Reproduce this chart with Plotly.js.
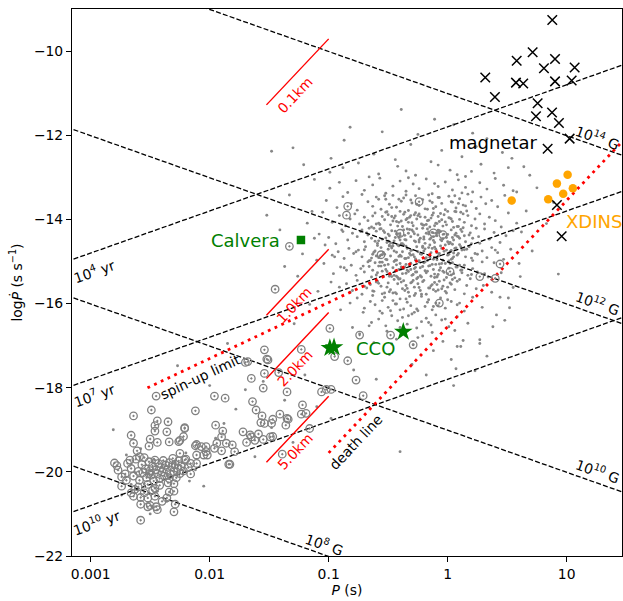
<!DOCTYPE html>
<html><head><meta charset="utf-8">
<script src="https://cdn.plot.ly/plotly-3.0.1.min.js"></script>
<style>html,body{margin:0;padding:0;background:#fff}</style>
</head><body><div id="chart" style="width:623px;height:601px"></div>
<script>
// ---- Data (log10 P [s], log10 Pdot [s/s]) ----
const normalPsr = [
[-0.39,-11.39],[-0.82,-11.81],[-0.11,-11.62],[0.21,-11.95],[-0.55,-11.92],[0.05,-11.75],[-0.25,-11.98],
[-0.87,-12.12],[-1.48,-12.38],[-1.30,-12.30],[-0.62,-12.45],[-0.31,-12.22],[0.12,-12.51],[0.33,-12.08],[-0.05,-12.36],[-0.98,-12.55],[0.46,-12.41],[-0.44,-12.58],[0.24,-12.27],
[-1.21,-12.70],[-0.99,-12.88],[-0.75,-12.66],[-0.58,-12.92],[-0.42,-12.74],[-0.27,-12.95],[-0.14,-12.63],[0.02,-12.83],[0.15,-12.98],[0.28,-12.69],[0.39,-12.90],[0.51,-12.77],[-0.66,-12.99],[-0.35,-12.85],[-0.08,-12.71],[0.20,-12.86],[-0.88,-12.77],[0.08,-12.94],
[-1.12,-13.05],[-0.99,-13.26],[-0.91,-13.12],[-0.84,-13.36],[-0.77,-13.08],[-0.70,-13.31],[-0.63,-13.18],[-0.57,-13.02],[-0.52,-13.38],[-0.46,-13.21],[-0.40,-13.09],[-0.35,-13.33],[-0.29,-13.16],[-0.24,-13.27],[-0.18,-13.04],[-0.13,-13.39],[-0.08,-13.22],[-0.02,-13.11],[0.04,-13.30],[0.09,-13.06],[0.15,-13.24],[0.21,-13.35],[0.27,-13.13],[0.33,-13.28],[0.40,-13.03],[0.47,-13.19],[0.55,-13.32],[-0.33,-13.01],[-0.11,-13.15],[0.12,-13.37],
[-1.02,-13.55],[-0.93,-13.72],[-0.88,-13.46],[-0.81,-13.63],[-0.76,-13.78],[-0.72,-13.41],[-0.67,-13.58],[-0.63,-13.69],[-0.60,-13.47],[-0.56,-13.76],[-0.52,-13.52],[-0.49,-13.64],[-0.46,-13.43],[-0.43,-13.71],[-0.39,-13.57],[-0.37,-13.49],[-0.33,-13.79],[-0.30,-13.61],[-0.27,-13.44],[-0.24,-13.67],[-0.21,-13.53],[-0.19,-13.75],[-0.16,-13.42],[-0.13,-13.60],[-0.10,-13.70],[-0.07,-13.48],[-0.05,-13.62],[-0.02,-13.77],[0.01,-13.45],[0.04,-13.59],[0.07,-13.73],[0.10,-13.51],[0.13,-13.66],[0.17,-13.40],[0.20,-13.58],[0.24,-13.74],[0.28,-13.47],[0.32,-13.63],[0.37,-13.55],[0.42,-13.70],[0.48,-13.43],[0.54,-13.61],[-0.41,-13.52],[-0.15,-13.56],[0.06,-13.44],
[-1.05,-13.83],[-0.97,-14.07],[-0.91,-13.91],[-0.86,-14.15],[-0.82,-13.99],[-0.78,-13.87],[-0.74,-14.11],[-0.70,-13.95],[-0.67,-14.03],[-0.64,-14.18],[-0.61,-13.85],[-0.58,-14.09],[-0.55,-13.93],[-0.53,-14.01],[-0.50,-13.89],[-0.48,-14.13],[-0.45,-13.97],[-0.43,-14.05],[-0.40,-13.81],[-0.38,-14.17],[-0.36,-13.83],[-0.33,-14.07],[-0.31,-13.91],[-0.29,-14.15],[-0.26,-13.99],[-0.24,-13.87],[-0.22,-14.11],[-0.19,-13.95],[-0.17,-14.03],[-0.15,-14.18],[-0.12,-13.85],[-0.10,-14.09],[-0.08,-13.93],[-0.05,-14.01],[-0.03,-13.89],[-0.01,-14.13],[0.02,-13.97],[0.04,-14.05],[0.06,-13.81],[0.09,-14.17],[0.11,-13.83],[0.14,-14.07],[0.17,-13.91],[0.20,-14.15],[0.23,-13.99],[0.27,-13.87],[0.31,-14.11],[0.35,-13.95],[0.40,-14.03],[0.45,-14.18],[0.51,-13.85],[0.58,-14.09],[-0.47,-13.93],[-0.35,-14.01],[-0.28,-13.89],[-0.21,-14.13],[-0.14,-13.97],[-0.07,-14.05],[0.00,-13.81],[0.08,-14.17],[-0.52,-13.83],[-0.41,-14.07],[-0.25,-13.91],[-0.11,-14.15],[0.03,-13.99],[0.13,-13.87],[-0.60,-14.11],[-0.32,-13.95],
[-1.08,-14.35],[-1.00,-14.43],[-0.94,-14.58],[-0.89,-14.25],[-0.84,-14.49],[-0.80,-14.33],[-0.76,-14.41],[-0.73,-14.29],[-0.70,-14.53],[-0.67,-14.37],[-0.64,-14.45],[-0.62,-14.21],[-0.59,-14.57],[-0.57,-14.23],[-0.55,-14.47],[-0.53,-14.31],[-0.51,-14.55],[-0.49,-14.39],[-0.47,-14.27],[-0.45,-14.51],[-0.43,-14.35],[-0.41,-14.43],[-0.39,-14.58],[-0.37,-14.25],[-0.35,-14.49],[-0.33,-14.33],[-0.31,-14.41],[-0.29,-14.29],[-0.27,-14.53],[-0.25,-14.37],[-0.23,-14.45],[-0.21,-14.21],[-0.19,-14.57],[-0.17,-14.23],[-0.15,-14.47],[-0.13,-14.31],[-0.11,-14.55],[-0.09,-14.39],[-0.07,-14.27],[-0.05,-14.51],[-0.03,-14.35],[-0.01,-14.43],[0.01,-14.58],[0.03,-14.25],[0.05,-14.49],[0.07,-14.33],[0.09,-14.41],[0.12,-14.29],[0.15,-14.53],[0.18,-14.37],[0.21,-14.45],[0.24,-14.21],[0.27,-14.57],[0.31,-14.23],[0.35,-14.47],[0.39,-14.31],[0.44,-14.55],[0.49,-14.39],[0.55,-14.27],[-0.58,-14.51],[-0.50,-14.35],[-0.44,-14.43],[-0.38,-14.58],[-0.30,-14.25],[-0.24,-14.49],[-0.18,-14.33],[-0.12,-14.41],[-0.06,-14.29],[0.00,-14.53],[0.06,-14.37],[0.10,-14.45],[-0.66,-14.21],[-0.46,-14.57],[-0.34,-14.23],[-0.20,-14.47],[-0.08,-14.31],[0.02,-14.55],[0.14,-14.39],[-0.54,-14.27],[-0.28,-14.51],[-0.16,-14.35],[0.04,-14.43],[0.20,-14.58],[-0.72,-14.25],[-0.40,-14.49],[-0.10,-14.33],[0.26,-14.41],[-0.88,-14.29],
[-1.10,-14.97],[-1.03,-14.61],[-0.97,-14.85],[-0.92,-14.77],[-0.87,-14.93],[-0.83,-14.69],[-0.79,-14.81],[-0.75,-14.73],[-0.72,-14.89],[-0.69,-14.65],[-0.66,-14.98],[-0.63,-14.83],[-0.61,-14.75],[-0.58,-14.91],[-0.56,-14.67],[-0.54,-14.79],[-0.52,-14.95],[-0.50,-14.71],[-0.48,-14.87],[-0.46,-14.63],[-0.44,-14.97],[-0.42,-14.61],[-0.40,-14.85],[-0.38,-14.77],[-0.36,-14.93],[-0.34,-14.69],[-0.32,-14.81],[-0.30,-14.73],[-0.28,-14.89],[-0.26,-14.65],[-0.24,-14.98],[-0.22,-14.83],[-0.20,-14.75],[-0.18,-14.91],[-0.16,-14.67],[-0.14,-14.79],[-0.12,-14.95],[-0.10,-14.71],[-0.08,-14.87],[-0.06,-14.63],[-0.04,-14.97],[-0.02,-14.61],[0.00,-14.85],[0.02,-14.77],[0.04,-14.93],[0.06,-14.69],[0.09,-14.81],[0.12,-14.73],[0.15,-14.89],[0.18,-14.65],[0.21,-14.98],[0.25,-14.83],[0.29,-14.75],[0.33,-14.91],[0.37,-14.67],[0.42,-14.79],[0.47,-14.95],[0.53,-14.71],[-0.57,-14.87],[-0.49,-14.63],[-0.43,-14.97],[-0.37,-14.61],[-0.31,-14.85],[-0.25,-14.77],[-0.19,-14.93],[-0.13,-14.69],[-0.07,-14.81],[-0.01,-14.73],[0.05,-14.89],[0.11,-14.65],[-0.65,-14.98],[-0.53,-14.83],[-0.45,-14.75],[-0.33,-14.91],[-0.21,-14.67],[-0.09,-14.79],[0.03,-14.95],[0.16,-14.71],[-0.60,-14.87],[-0.41,-14.63],[-0.27,-14.97],[-0.15,-14.61],[0.08,-14.85],[-0.77,-14.77],[-0.35,-14.93],[-0.05,-14.69],[0.23,-14.81],[0.40,-14.73],[-0.95,-14.89],[-0.47,-14.65],[-0.17,-14.98],[0.01,-14.83],
[-1.04,-15.05],[-0.96,-15.29],[-0.90,-15.13],[-0.85,-15.21],[-0.81,-15.09],[-0.77,-15.33],[-0.73,-15.17],[-0.70,-15.25],[-0.67,-15.01],[-0.64,-15.37],[-0.61,-15.03],[-0.59,-15.27],[-0.56,-15.11],[-0.54,-15.35],[-0.52,-15.19],[-0.50,-15.07],[-0.48,-15.31],[-0.46,-15.15],[-0.44,-15.23],[-0.42,-15.38],[-0.40,-15.05],[-0.38,-15.29],[-0.36,-15.13],[-0.34,-15.21],[-0.32,-15.09],[-0.30,-15.33],[-0.28,-15.17],[-0.26,-15.25],[-0.24,-15.01],[-0.22,-15.37],[-0.20,-15.03],[-0.18,-15.27],[-0.16,-15.11],[-0.14,-15.35],[-0.12,-15.19],[-0.10,-15.07],[-0.08,-15.31],[-0.06,-15.15],[-0.04,-15.23],[-0.01,-15.38],[0.02,-15.05],[0.05,-15.29],[0.08,-15.13],[0.11,-15.21],[0.14,-15.09],[0.17,-15.33],[0.21,-15.17],[0.25,-15.25],[0.29,-15.01],[0.34,-15.37],[0.39,-15.03],[0.45,-15.27],[-0.58,-15.11],[-0.49,-15.35],[-0.41,-15.19],[-0.35,-15.07],[-0.29,-15.31],[-0.23,-15.15],[-0.17,-15.23],[-0.11,-15.38],[-0.05,-15.05],[0.00,-15.29],[0.07,-15.13],[-0.63,-15.21],[-0.53,-15.09],[-0.45,-15.33],[-0.37,-15.17],[-0.27,-15.25],[-0.19,-15.01],[-0.09,-15.37],[0.04,-15.03],[0.12,-15.27],[-0.71,-15.11],[-0.43,-15.35],[-0.31,-15.19],[-0.13,-15.07],[0.20,-15.31],[-0.87,-15.15],[-0.55,-15.23],[-0.25,-15.38],[-0.02,-15.05],[0.31,-15.29],[-0.39,-15.13],[-0.07,-15.21],[0.10,-15.09],
[-0.98,-15.49],[-0.91,-15.61],[-0.85,-15.53],[-0.80,-15.69],[-0.76,-15.45],[-0.72,-15.78],[-0.68,-15.63],[-0.65,-15.55],[-0.62,-15.71],[-0.59,-15.47],[-0.56,-15.59],[-0.53,-15.75],[-0.50,-15.51],[-0.48,-15.67],[-0.45,-15.43],[-0.43,-15.77],[-0.40,-15.41],[-0.38,-15.65],[-0.35,-15.57],[-0.33,-15.73],[-0.30,-15.49],[-0.28,-15.61],[-0.25,-15.53],[-0.23,-15.69],[-0.20,-15.45],[-0.18,-15.78],[-0.15,-15.63],[-0.13,-15.55],[-0.10,-15.71],[-0.07,-15.47],[-0.04,-15.59],[-0.01,-15.75],[0.02,-15.51],[0.06,-15.67],[0.10,-15.43],[0.14,-15.77],[0.19,-15.41],[0.24,-15.65],[0.30,-15.57],[0.37,-15.73],[-0.60,-15.49],[-0.51,-15.61],[-0.42,-15.53],[-0.36,-15.69],[-0.29,-15.45],[-0.22,-15.78],[-0.16,-15.63],[-0.09,-15.55],[-0.02,-15.71],[0.08,-15.47],[-0.70,-15.59],[-0.46,-15.75],[-0.31,-15.51],[-0.12,-15.67],[0.04,-15.43],[-0.55,-15.77],[-0.26,-15.41],[-0.05,-15.65],[0.16,-15.57],[-0.82,-15.73],[-0.39,-15.49],[0.00,-15.61],
[-0.90,-16.15],[-0.82,-15.99],[-0.76,-15.87],[-0.70,-16.11],[-0.65,-15.95],[-0.61,-16.03],[-0.57,-16.18],[-0.53,-15.85],[-0.50,-16.09],[-0.46,-15.93],[-0.43,-16.01],[-0.40,-15.89],[-0.37,-16.13],[-0.34,-15.97],[-0.31,-16.05],[-0.28,-15.81],[-0.25,-16.17],[-0.22,-15.83],[-0.19,-16.07],[-0.16,-15.91],[-0.13,-16.15],[-0.10,-15.99],[-0.06,-15.87],[-0.02,-16.11],[0.03,-15.95],[0.08,-16.03],[0.14,-16.18],[0.21,-15.85],[0.29,-16.09],[-0.55,-15.93],[-0.44,-16.01],[-0.35,-15.89],[-0.26,-16.13],[-0.17,-15.97],[-0.08,-16.05],[-0.63,-15.81],[-0.48,-16.17],[-0.32,-15.83],[-0.12,-16.07],[0.00,-15.91],[-0.40,-16.15],[0.10,-15.99],
[-0.80,-16.57],[-0.71,-16.21],[-0.64,-16.45],[-0.58,-16.37],[-0.52,-16.53],[-0.47,-16.29],[-0.42,-16.41],[-0.38,-16.33],[-0.34,-16.49],[-0.30,-16.25],[-0.26,-16.58],[-0.22,-16.43],[-0.18,-16.35],[-0.14,-16.51],[-0.10,-16.27],[-0.05,-16.39],[0.01,-16.55],[0.08,-16.31],[0.17,-16.47],[-0.55,-16.23],[-0.40,-16.57],[-0.28,-16.21],[-0.16,-16.45],[-0.02,-16.37],[-0.66,-16.53],[-0.33,-16.29],
[-0.74,-16.72],[-0.62,-16.93],[-0.51,-16.66],[-0.43,-16.85],[-0.36,-16.61],[-0.29,-16.98],[-0.21,-16.77],[-0.13,-16.69],[-0.04,-16.90],[0.06,-16.64],[-0.47,-16.96],[-0.25,-16.81],[0.13,-16.88],
[-0.79,-17.58],[-0.49,-17.21],[-0.30,-17.45],[-0.12,-17.12],[0.03,-17.33],[-0.98,-18.73],[-0.40,-19.52],[-0.60,-17.80],[0.11,-17.02],[-0.18,-17.70],[0.07,-17.55],
[-1.18,-14.09],[-1.41,-14.25],[-1.14,-13.81],[-1.26,-15.35],[-1.33,-13.42],[-1.16,-16.02],[-1.09,-15.71],[-1.22,-14.82],[-1.52,-13.90],[-1.29,-16.48],[-1.12,-14.45],[-1.37,-15.12],
[0.55,-15.62],[0.62,-14.30],[0.58,-13.35],[0.66,-13.80],[0.71,-14.75],[0.52,-16.10],[0.64,-12.75],[0.48,-16.40],[0.60,-15.05],[0.75,-13.25],[0.83,-14.10],[0.44,-15.85],[0.38,-16.55],[0.27,-16.95],[0.33,-17.25],[0.23,-17.60],[0.05,-17.95],[0.54,-12.55],[0.69,-12.95],[0.89,-13.60],[0.93,-15.30],[0.41,-16.27],[0.51,-15.87],[0.61,-15.36],[0.27,-16.86],[0.08,-17.02],
[-2.81,-19.00],[-2.27,-17.48],[-2.05,-20.34],[-1.78,-18.51],[-1.37,-18.30],[-1.62,-19.64],[-2.58,-19.45],[-2.47,-19.70],[-2.40,-19.88],[-2.33,-20.12],[-2.62,-20.02],[-2.55,-20.28],[-2.44,-20.46],[-2.36,-20.70],[-2.50,-21.00],[-2.20,-19.55],[-2.12,-19.95],[-1.95,-19.20],[-1.88,-18.85],[-1.70,-18.05],[-1.55,-17.85],[-1.48,-18.95],[-1.30,-19.30],[-1.20,-17.70],[-2.70,-19.60],[-2.66,-20.30],[-2.29,-19.78],[-2.17,-20.22],[-2.74,-20.55],[-1.10,-18.45],[-1.85,-16.95],[-2.00,-17.95],
[-0.63,-13.92],[-0.57,-14.12],[-0.51,-13.82],[-0.46,-14.04],[-0.42,-14.16],[-0.37,-13.88],[-0.34,-13.98],[-0.30,-14.08],[-0.27,-13.84],[-0.23,-13.94],[-0.20,-14.14],[-0.16,-14.02],[-0.13,-13.90],[-0.09,-14.10],[-0.06,-13.86],[-0.02,-14.06],[0.01,-13.96],[0.05,-14.19],[0.10,-14.00],[0.16,-13.80],[-0.44,-13.92],[-0.18,-14.12],[0.07,-13.82],[-0.39,-14.04],[-0.04,-14.16],
[-0.68,-14.32],[-0.61,-14.52],[-0.56,-14.22],[-0.52,-14.44],[-0.48,-14.56],[-0.44,-14.28],[-0.40,-14.38],[-0.36,-14.48],[-0.32,-14.24],[-0.28,-14.34],[-0.24,-14.54],[-0.20,-14.42],[-0.16,-14.30],[-0.12,-14.50],[-0.08,-14.26],[-0.04,-14.46],[0.00,-14.36],[0.04,-14.59],[0.08,-14.40],[0.13,-14.20],[0.19,-14.32],[-0.50,-14.52],[-0.26,-14.22],[-0.14,-14.44],[0.02,-14.56],[-0.60,-14.28],[-0.36,-14.38],[-0.06,-14.48],[0.11,-14.24],[-0.42,-14.34],
[-0.70,-14.72],[-0.64,-14.92],[-0.59,-14.62],[-0.55,-14.84],[-0.51,-14.96],[-0.47,-14.68],[-0.43,-14.78],[-0.39,-14.88],[-0.35,-14.64],[-0.31,-14.74],[-0.27,-14.94],[-0.23,-14.82],[-0.19,-14.70],[-0.15,-14.90],[-0.11,-14.66],[-0.07,-14.86],[-0.03,-14.76],[0.01,-14.99],[0.05,-14.80],[0.10,-14.60],[0.14,-14.72],[0.20,-14.92],[-0.49,-14.62],[-0.29,-14.84],[-0.09,-14.96],[0.07,-14.68],[-0.62,-14.78],[-0.41,-14.88],[-0.21,-14.64],[0.03,-14.74],
[-0.66,-15.12],[-0.60,-15.32],[-0.55,-15.02],[-0.51,-15.24],[-0.47,-15.36],[-0.43,-15.08],[-0.39,-15.18],[-0.35,-15.28],[-0.31,-15.04],[-0.27,-15.14],[-0.23,-15.34],[-0.19,-15.22],[-0.15,-15.10],[-0.11,-15.30],[-0.07,-15.06],[-0.03,-15.26],[0.01,-15.16],[0.06,-15.39],[0.12,-15.20],[-0.45,-15.00],[-0.21,-15.12],[0.03,-15.32],[-0.57,-15.02],[-0.33,-15.24],[-0.09,-15.36],
[-0.58,-15.52],[-0.49,-15.72],[-0.41,-15.42],[-0.34,-15.64],[-0.27,-15.76],[-0.21,-15.48],[-0.14,-15.58],[-0.08,-15.68],[-0.03,-15.44],[0.03,-15.54],[-0.44,-15.74],[-0.24,-15.62],[-0.11,-15.50],[-0.63,-15.70],[-0.37,-15.46],
[-0.58,-13.52],[-0.47,-13.72],[-0.35,-13.42],[-0.26,-13.64],[-0.17,-13.76],[-0.08,-13.48],[0.03,-13.58],[0.15,-13.68],[-0.53,-13.44],[-0.31,-13.54],[-0.12,-13.74],[0.09,-13.62]
];

const binaryPsr = [
[-0.84,-13.69],[-0.85,-13.90],[-1.33,-14.64],[-1.45,-15.66],[-0.24,-13.58],[-0.40,-14.33],[-0.12,-14.32],[-0.04,-14.36],[-0.56,-14.84],[0.02,-15.24],[0.27,-15.36],[0.44,-15.06],[0.40,-15.40],[-0.07,-15.99],
[-0.99,-16.59],[-0.74,-16.75],[-0.48,-16.75],[-0.29,-16.98],[-0.95,-17.26],[-0.84,-17.36],[-0.77,-17.82],[-0.71,-18.19],[-1.54,-17.10],[-1.52,-17.32],[-1.54,-17.66],[-1.65,-17.78],[-1.55,-18.01],[-1.35,-18.10],[-1.23,-17.09],[-1.70,-17.40],[-1.06,-18.10],[-1.02,-18.04],[-0.98,-18.04],[-2.45,-18.20],[-1.96,-18.20],[-1.87,-18.25],[-2.49,-18.53],[-2.12,-18.55],[-1.64,-18.33],[-1.22,-18.41],[-1.19,-18.61],[-1.35,-18.73],[-1.16,-18.97],[-1.39,-19.58],[-1.84,-19.82],
[-1.68,-17.38],[-1.51,-17.34],[-1.42,-17.64],[-2.64,-18.67],[-1.61,-18.53],[-1.56,-18.67],[-1.57,-18.83],[-1.47,-18.75],[-1.41,-18.63],[-1.34,-18.75],[-1.48,-18.85],[-1.23,-18.63],[-1.54,-18.85],[-1.36,-18.89],
[-2.44,-18.79],[-2.35,-18.81],[-2.21,-18.97],[-2.46,-18.90],[-2.46,-19.03],[-2.36,-19.05],[-1.95,-18.89],[-1.89,-19.03],[-1.90,-19.17],[-1.72,-19.05],[-1.65,-19.17],[-1.59,-19.10],[-1.55,-19.23],[-1.49,-19.17],[-1.86,-19.32],[-1.81,-19.36],[-1.79,-19.52],[-1.69,-19.30],[-1.62,-19.25],[-2.50,-19.22],[-2.51,-19.39],[-2.44,-19.30],[-2.25,-19.25],[-2.11,-19.35],[-2.03,-19.40],[-1.96,-19.44],[-2.66,-19.13],[-2.64,-19.32],[-2.34,-19.29],[-1.90,-19.50],[-1.83,-19.82],
[-2.80,-19.79],[-2.77,-19.96],[-2.74,-20.12],[-2.67,-19.72],[-2.61,-19.50],[-2.59,-19.64],[-2.51,-20.04],[-2.25,-19.56],[-2.21,-19.72],[-2.11,-19.60],[-2.05,-19.60],[-2.02,-19.60],[-2.11,-19.80],[-2.16,-20.05],[-2.30,-20.28],[-2.34,-20.48],[-2.46,-20.39],[-2.45,-20.83],[-2.52,-20.83],[-2.58,-20.77],[-2.58,-20.61],[-2.64,-20.58],[-2.66,-20.50],[-2.74,-20.34],[-2.58,-21.15],[-2.29,-20.77],[-2.30,-20.95],[-2.34,-20.16],[-2.42,-20.32],
[-1.94,-19.32],[-1.66,-19.12],[-1.47,-19.16],[-2.07,-19.40],[-2.03,-19.52],[-2.21,-18.95],[-2.22,-19.16],[-2.12,-19.38],[-2.26,-19.28],
[-2.78,-19.85],[-2.71,-20.05],[-2.69,-19.80],[-2.66,-19.92],[-2.64,-20.10],[-2.62,-19.70],[-2.60,-19.99],[-2.59,-20.20],[-2.57,-19.83],[-2.56,-20.02],[-2.55,-19.66],[-2.54,-19.93],[-2.53,-20.14],[-2.52,-20.30],[-2.51,-19.76],[-2.50,-19.97],[-2.49,-20.08],[-2.48,-19.86],[-2.47,-20.22],[-2.46,-19.72],[-2.45,-19.95],[-2.44,-20.04],[-2.43,-19.80],[-2.42,-20.16],[-2.41,-19.90],[-2.40,-20.00],[-2.39,-19.73],[-2.38,-20.10],[-2.37,-19.84],[-2.36,-19.96],[-2.35,-20.26],[-2.34,-19.78],[-2.33,-20.06],[-2.32,-19.88],[-2.31,-19.68],[-2.30,-20.00],[-2.29,-19.82],[-2.28,-20.14],[-2.27,-19.92],[-2.26,-19.74],[-2.25,-20.04],[-2.24,-19.86],[-2.22,-19.98],[-2.20,-19.70],[-2.18,-19.90],[-2.16,-19.80],[-2.70,-20.20],[-2.60,-20.36],[-2.48,-20.44],[-2.55,-20.50],[-2.63,-20.42],[-2.52,-20.62],[-2.46,-20.58],[-2.40,-20.70],[-2.50,-20.80],[-2.44,-20.90],[-2.36,-20.62],[-2.30,-20.46]
];

const magnetarLogP    = [0.879,0.714,0.580,0.902,0.809,1.067,0.316,0.574,0.635,0.902,1.042,0.397,0.756,0.742,0.877,0.935,1.025,0.840,0.918,0.958];
const magnetarLogPdot = [-9.26,-10.03,-10.23,-10.19,-10.41,-10.39,-10.63,-10.75,-10.77,-10.72,-10.70,-11.09,-11.24,-11.55,-11.46,-11.71,-12.08,-12.32,-13.66,-14.40];
const xdinsLogP    = [1.008,0.918,1.052,0.971,0.845,0.538];
const xdinsLogPdot = [-12.94,-13.15,-13.26,-13.39,-13.52,-13.55];
const ccoLogP    = [-0.990,-0.955,-0.373];
const ccoLogPdot = [-17.06,-17.04,-16.67];
const calveraLogP = [-1.233];
const calveraLogPdot = [-14.49];

// reference lines
const bFields = [1e8, 1e10, 1e12, 1e14];          // G
const agesYr  = [1e4, 1e7, 1e10];                  // yr
const radiiKm = [0.1, 1.0, 2.0, 5.0];              // km
const radiusConstAt1km = -11.71;                    // log Pdot at P=1 s for 1 km (slope 3)
const deathConst = -16.55;                          // log Pdot at P=1 s (slope 3)
const spinupConst = -14.64;                         // log Pdot at P=1 s (slope 4/3)

const tickVals = [0.001, 0.01, 0.1, 1, 10];
const tickText = ['0.001','0.01','0.1','1','10'];
const yTicks = [-22,-20,-18,-16,-14,-12,-10];

// ---- build ----
const P = v => Math.pow(10, v);
const traces = [];
traces.push({type:'scatter', mode:'markers', x: normalPsr.map(p=>P(p[0])), y: normalPsr.map(p=>p[1]),
  marker:{size:2.9, color:'#878787', line:{width:0}}, hoverinfo:'skip'});

const dashLine = {color:'black', width:1.3, dash:'5px,2.2px'};
const xLo = 1e-4, xHi = 100;
bFields.forEach(B => {
  const c = 2*Math.log10(B) - 2*Math.log10(3.2e19);
  traces.push({type:'scatter', mode:'lines', x:[xLo,xHi], y:[c-Math.log10(xLo), c-Math.log10(xHi)], line:dashLine, hoverinfo:'skip'});
});
agesYr.forEach(t => {
  const c = -Math.log10(2*t*3.15576e7);
  traces.push({type:'scatter', mode:'lines', x:[xLo,xHi], y:[c+Math.log10(xLo), c+Math.log10(xHi)], line:dashLine, hoverinfo:'skip'});
});
radiiKm.forEach(r => {
  const c = radiusConstAt1km - 5*Math.log10(r);
  traces.push({type:'scatter', mode:'lines', x:[0.03,0.1], y:[c+3*Math.log10(0.03), c+3*Math.log10(0.1)], line:{color:'red', width:1.4}, hoverinfo:'skip'});
});
const dotted = {color:'red', width:2.8, dash:'2.8px,4.6px'};
traces.push({type:'scatter', mode:'lines', x:[0.1,100], y:[deathConst+3*Math.log10(0.1), deathConst+3*Math.log10(100)], line:dotted, hoverinfo:'skip'});
traces.push({type:'scatter', mode:'lines', x:[0.003,1], y:[spinupConst+4/3*Math.log10(0.003), spinupConst], line:dotted, hoverinfo:'skip'});

traces.push({type:'scatter', mode:'markers', x: binaryPsr.map(p=>P(p[0])), y: binaryPsr.map(p=>p[1]),
  marker:{symbol:'circle-open-dot', size:7.5, color:'#808080', line:{width:1.3, color:'#808080'}}, hoverinfo:'skip'});
traces.push({type:'scatter', mode:'markers', x: magnetarLogP.map(P), y: magnetarLogPdot,
  marker:{symbol:'x-thin-open', size:9.5, color:'black', line:{width:1.5, color:'black'}}, hoverinfo:'skip'});
traces.push({type:'scatter', mode:'markers', x: xdinsLogP.map(P), y: xdinsLogPdot,
  marker:{symbol:'circle', size:8.5, color:'#FFA500'}, hoverinfo:'skip'});
traces.push({type:'scatter', mode:'markers', x: ccoLogP.map(P), y: ccoLogPdot,
  marker:{symbol:'star', size:14, color:'#008000'}, hoverinfo:'skip'});
traces.push({type:'scatter', mode:'markers', x: calveraLogP.map(P), y: calveraLogPdot,
  marker:{symbol:'square', size:8.5, color:'#008000'}, hoverinfo:'skip'});

const F = 'DejaVu Sans, sans-serif';
function ann(x, y, text, opts) {
  return Object.assign({x:x, y:y, xref:'x', yref:'y', text:text, showarrow:false,
    xanchor:'center', yanchor:'middle', font:{family:F, size:13.9, color:'black'}}, opts||{});
}
const ageAng = -19.5, bAng = 19.5, k3Ang = -46.6, spAng = -25.2;
const annotations = [
  ann(-2.972, -15.23, '10<sup>4</sup> yr', {textangle:ageAng}),
  ann(-2.972, -18.17, '10<sup>7</sup> yr', {textangle:ageAng}),
  ann(-2.951, -21.18, '10<sup>10</sup> yr', {textangle:ageAng}),
  ann(1.255, -12.04, '10<sup>14</sup> G', {textangle:bAng}),
  ann(1.263, -15.99, '10<sup>12</sup> G', {textangle:bAng}),
  ann(1.263, -19.99, '10<sup>10</sup> G', {textangle:bAng}),
  ann(-1.039, -21.71, '10<sup>8</sup> G', {textangle:bAng}),
  ann(-1.283, -11.04, '0.1km', {textangle:k3Ang, font:{family:F, size:13.9, color:'red'}}),
  ann(-1.292, -16.03, '1.0km', {textangle:k3Ang, font:{family:F, size:13.9, color:'red'}}),
  ann(-1.283, -17.53, '2.0km', {textangle:k3Ang, font:{family:F, size:13.9, color:'red'}}),
  ann(-1.279, -19.50, '5.0km', {textangle:k3Ang, font:{family:F, size:13.9, color:'red'}}),
  ann(-0.771, -19.29, 'death line', {textangle:k3Ang}),
  ann(-2.081, -17.745, 'spin-up limit', {textangle:spAng}),
  ann(0.381, -12.18, 'magnetar', {font:{family:F, size:18, color:'black'}}),
  ann(-1.703, -14.49, 'Calvera', {font:{family:F, size:18, color:'#008000'}}),
  ann(-0.603, -17.08, 'CCO', {font:{family:F, size:18, color:'#008000'}}),
  ann(1.230, -14.05, 'XDINS', {font:{family:F, size:18, color:'#FFA500'}})
];

const axisCommon = {showline:true, linecolor:'black', linewidth:1, mirror:true, ticks:'outside', ticklen:5, tickwidth:1, tickcolor:'black',
  showgrid:false, zeroline:false, tickfont:{family:F, size:13.9, color:'black'}};
const layout = {
  width:623, height:601, margin:{l:72, r:1, t:9, b:45, pad:0},
  paper_bgcolor:'white', plot_bgcolor:'white', showlegend:false,
  font:{family:F, size:13.9, color:'black'},
  xaxis: Object.assign({}, axisCommon, {type:'log', range:[-3.157, 1.465], tickmode:'array', tickvals:tickVals, ticktext:tickText,
    title:{text:'<i>P</i> (s)', font:{family:F, size:13.9, color:'black'}, standoff:4}}),
  yaxis: Object.assign({}, axisCommon, {range:[-22,-9], tickmode:'array', tickvals:yTicks, ticktext:yTicks.map(v=>'\u2212'+Math.abs(v)),
    title:{text:'log<i>\u1E56</i> (s s<sup>\u22121</sup>)', font:{family:F, size:13.9, color:'black'}, standoff:8}}),
  annotations: annotations
};
Plotly.newPlot('chart', traces, layout, {staticPlot:true, displayModeBar:false});
</script></body></html>
